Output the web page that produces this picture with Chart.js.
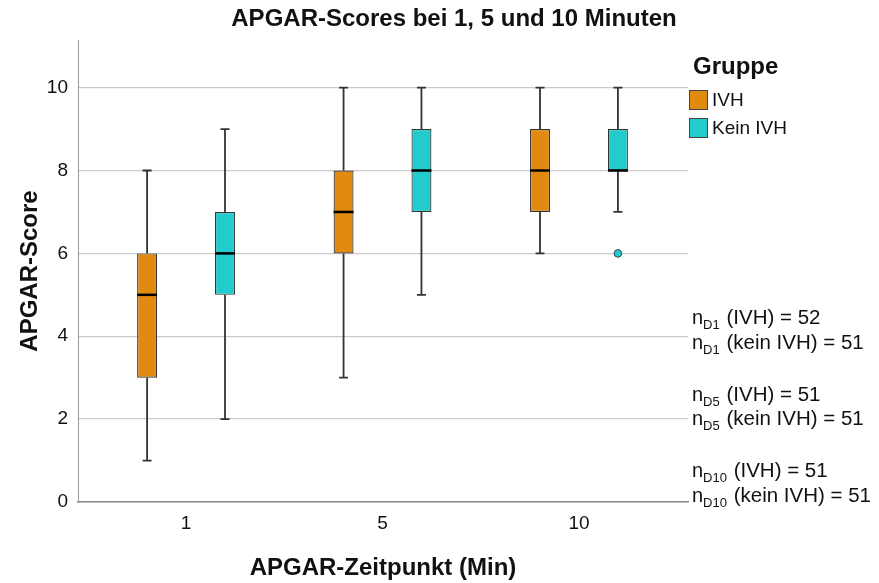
<!DOCTYPE html>
<html>
<head>
<meta charset="utf-8">
<script src="https://cdn.jsdelivr.net/npm/chart.js@4/dist/chart.umd.min.js"></script>
<style>
  html, body { margin: 0; padding: 0; background: #fff; }
  #wrap { width: 879px; height: 583px; }
</style>
</head>
<body>
<div id="wrap"><canvas id="apgar"></canvas></div>
<script>
// Zeitpunkte (Minuten)
const timepoints = ['1', '5', '10'];

// IVH
const ivhMin = [1, 3, 6];
const ivhQ1  = [3, 6, 7];
const ivhMed = [5, 7, 8];
const ivhQ3  = [6, 8, 9];
const ivhMax = [8, 10, 10];
const ivhOut = [[], [], []];

// Kein IVH
const keinMin = [2, 5, 7];
const keinQ1  = [5, 7, 8];
const keinMed = [6, 8, 8];
const keinQ3  = [7, 9, 9];
const keinMax = [9, 10, 10];
const keinOut = [[], [], [6]];

// Fallzahlen
const nSub  = ['D1', 'D5', 'D10'];
const nIvh  = [52, 51, 51];
const nKein = [51, 51, 51];

const groups = [
	{ label: 'IVH',      color: '#E08B10', min: ivhMin,  q1: ivhQ1,  med: ivhMed,  q3: ivhQ3,  max: ivhMax,  out: ivhOut },
	{ label: 'Kein IVH', color: '#22CCCC', min: keinMin, q1: keinQ1, med: keinMed, q3: keinQ3, max: keinMax, out: keinOut }
];

const FONT = "'Liberation Sans', Arial, sans-serif";

const boxPlugin = {
	id: 'boxWhiskers',
	afterDatasetsDraw(chart) {
		const ctx = chart.ctx, y = chart.scales.y;
		ctx.save();
		groups.forEach((g, d) => {
			const meta = chart.getDatasetMeta(d);
			meta.data.forEach((bar, i) => {
				const x = bar.x, hw = bar.width / 2, cap = 4.5;
				ctx.strokeStyle = '#333';
				ctx.lineWidth = 1.8;
				ctx.beginPath();
				ctx.moveTo(x, y.getPixelForValue(g.q3[i]));
				ctx.lineTo(x, y.getPixelForValue(g.max[i]));
				ctx.moveTo(x - cap, y.getPixelForValue(g.max[i]));
				ctx.lineTo(x + cap, y.getPixelForValue(g.max[i]));
				ctx.moveTo(x, y.getPixelForValue(g.q1[i]));
				ctx.lineTo(x, y.getPixelForValue(g.min[i]));
				ctx.moveTo(x - cap, y.getPixelForValue(g.min[i]));
				ctx.lineTo(x + cap, y.getPixelForValue(g.min[i]));
				ctx.stroke();
				// Median
				ctx.strokeStyle = '#000';
				ctx.lineWidth = 2.5;
				ctx.beginPath();
				ctx.moveTo(x - hw, y.getPixelForValue(g.med[i]));
				ctx.lineTo(x + hw, y.getPixelForValue(g.med[i]));
				ctx.stroke();
				// Ausreisser
				g.out[i].forEach(v => {
					ctx.beginPath();
					ctx.arc(x, y.getPixelForValue(v), 3.8, 0, Math.PI * 2);
					ctx.fillStyle = g.color;
					ctx.fill();
					ctx.strokeStyle = '#2a4a4a';
					ctx.lineWidth = 1;
					ctx.stroke();
				});
			});
		});
		ctx.restore();
	},
	afterDraw(chart) {
		const ctx = chart.ctx;
		ctx.save();
		ctx.fillStyle = '#111';
		// Titel
		ctx.font = 'bold 24px ' + FONT;
		ctx.textAlign = 'center';
		ctx.textBaseline = 'middle';
		ctx.fillText('APGAR-Scores bei 1, 5 und 10 Minuten', 454, 19);

		// Legende
		ctx.textAlign = 'left';
		ctx.fillText('Gruppe', 693, 67);
		ctx.font = '19px ' + FONT;
		groups.forEach((g, k) => {
			const top = 90 + k * 28;
			ctx.fillStyle = g.color;
			ctx.fillRect(689.5, top + 0.5, 18, 19);
			ctx.strokeStyle = '#444';
			ctx.lineWidth = 1;
			ctx.strokeRect(689.5, top + 0.5, 18, 19);
			ctx.fillStyle = '#111';
			ctx.fillText(g.label, 712, top + 11);
		});

		// Fallzahlen
		ctx.textBaseline = 'alphabetic';
		const line = (txt, sub, rest, yy) => {
			let x = 692;
			ctx.font = '20px ' + FONT;
			ctx.fillText(txt, x, yy);
			x += ctx.measureText(txt).width;
			ctx.font = '13px ' + FONT;
			ctx.fillText(sub, x, yy + 5);
			x += ctx.measureText(sub).width + 1;
			ctx.font = '20.5px ' + FONT;
			ctx.fillText(rest, x, yy);
		};
		nSub.forEach((s, i) => {
			const yy = 324 + i * 76.5;
			line('n', s, ' (IVH) = ' + nIvh[i], yy);
			line('n', s, ' (kein IVH) = ' + nKein[i], yy + 24.5);
		});
		ctx.restore();
	}
};

new Chart(document.getElementById('apgar').getContext('2d'), {
	type: 'bar',
	data: {
		datasets: groups.map(g => ({
			label: g.label,
			backgroundColor: g.color,
			borderColor: '#333',
			borderWidth: 1.2,
			borderSkipped: false,
			categoryPercentage: 0.793,
			barPercentage: 0.256,
			data: timepoints.map((t, i) => ({ x: i, y: [g.q1[i], g.q3[i]] }))
		}))
	},
	options: {
		responsive: true,
		maintainAspectRatio: false,
		animation: false,
		layout: { padding: { top: 40, right: 191, left: 0, bottom: 0 } },
		plugins: {
			legend: { display: false },
			title: { display: false },
			tooltip: { enabled: false }
		},
		scales: {
			x: {
				type: 'linear',
				offset: false,
				min: -0.55,
				max: 2.555,
				grid: { display: false, drawTicks: false },
				border: { color: '#8a8a8a', width: 1.5 },
				ticks: {
					stepSize: 1,
					includeBounds: false,
					padding: 10,
					color: '#111',
					font: { family: FONT, size: 19 },
					callback: v => timepoints[v]
				},
				title: {
					display: true,
					text: 'APGAR-Zeitpunkt (Min)',
					color: '#111',
					font: { family: FONT, size: 24, weight: 'bold' },
					padding: { top: 0, bottom: 0 }
				},
				afterFit: s => { s.height = 81; }
			},
			y: {
				min: 0,
				max: 11.15,
				grid: { color: '#cbcbcb', lineWidth: 1.3, drawTicks: false },
				border: { color: '#9a9a9a', width: 1 },
				ticks: {
					stepSize: 2,
					includeBounds: false,
					padding: 10,
					color: '#111',
					font: { family: FONT, size: 19 }
				},
				title: {
					display: true,
					text: 'APGAR-Score',
					color: '#111',
					font: { family: FONT, size: 24, weight: 'bold' },
					padding: { top: 16, bottom: 0 }
				},
				afterFit: s => { s.width = 78; }
			}
		}
	},
	plugins: [boxPlugin]
});
</script>
</body>
</html>
